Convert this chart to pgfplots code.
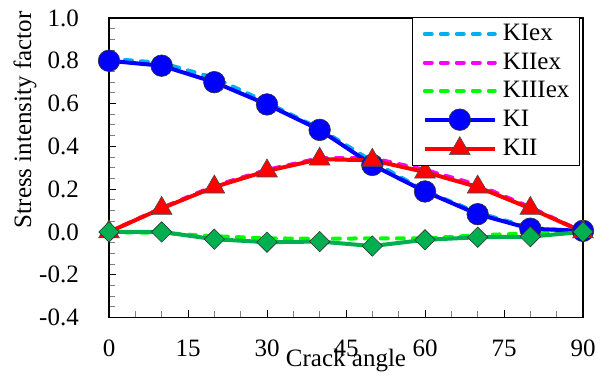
\documentclass[border=0pt]{standalone}
\usepackage{pgfplots}
\pgfplotsset{compat=1.18}
\usepackage{fontspec}
\setmainfont{Liberation Serif}
\definecolor{kiex}{HTML}{00B0F0}
\definecolor{kiiex}{HTML}{FF00FF}
\definecolor{kiiiex}{HTML}{00FF00}
\definecolor{kiii}{HTML}{00B050}
\definecolor{ki}{HTML}{0000FF}
\definecolor{kii}{HTML}{FF0000}
\begin{document}
\begin{tikzpicture}
\fontsize{25bp}{29bp}\selectfont
\path[use as bounding box] (0,0) rectangle (603bp,379bp);
\begin{axis}[
  at={(109bp,61.5bp)}, anchor=south west,
  width=474bp, height=299.5bp, scale only axis,
  xmin=0, xmax=90, ymin=-0.4, ymax=1.0,
  xtick={0,15,30,45,60,75,90}, minor x tick num=2,
  ytick={-0.4,-0.2,0,0.2,0.4,0.6,0.8,1.0},
  yticklabels={-0.4,-0.2,0.0,0.2,0.4,0.6,0.8,1.0},
  minor y tick num=3,
  xtick pos=left, ytick pos=left, tick align=inside,
  major tick length=7bp, minor tick length=6bp,
  major tick style={black, line width=1bp},
  minor tick style={gray, line width=1bp},
  axis line style={line width=1.3bp},
  /pgf/number format/assume math mode=true,
  ticklabel style={font=\fontsize{25bp}{29bp}\selectfont},
  xticklabel style={anchor=base, yshift=-38.5bp},
  yticklabel style={anchor=east, inner sep=0pt, xshift=-30bp},
  xlabel={Crack angle},
  ylabel={Stress intensity factor},
  label style={font=\fontsize{25bp}{29bp}\selectfont},
  xlabel style={at={(axis description cs:0.5,-0.165)}, anchor=base},
  ylabel style={at={(axis description cs:-0.177,0.66)}, anchor=center},
  legend cell align=left,
  legend image code/.code={\draw[line width=4bp, mark repeat=2,mark phase=2] plot coordinates {(0bp,0bp) (35bp,0bp) (70bp,0bp)};},
  legend style={at={(rel axis cs:0.9937,1.003)}, anchor=north east,
    draw=black, line width=1.2bp, font=\fontsize{25bp}{29bp}\selectfont,
    inner xsep=10bp, inner ysep=5bp,
    nodes={inner sep=0bp, text height=18bp, text depth=5bp},
    row sep=5.5bp, column sep=6bp},
]
\addplot[color=kiex, line width=4bp, dash pattern=on 7bp off 9bp, line cap=round] coordinates {
(0,0.81) (10,0.79) (20,0.72) (30,0.605) (40,0.482) (50,0.33) (60,0.192) (70,0.09) (80,0.02) (90,0.0)};
\addlegendentry{KIex}
\addplot[color=kiiex, line width=4bp, dash pattern=on 7bp off 9bp, line cap=round] coordinates {
(0,0.0) (10,0.112) (20,0.215) (30,0.29) (40,0.345) (50,0.345) (60,0.29) (70,0.22) (80,0.115) (90,0.0)};
\addlegendentry{KIIex}
\addplot[color=kiiiex, line width=4bp, dash pattern=on 7bp off 9bp, line cap=round] coordinates {
(0,0.0) (10,-0.005) (20,-0.02) (30,-0.03) (40,-0.032) (50,-0.03) (60,-0.03) (70,-0.016) (80,-0.006) (90,0.0)};
\addlegendentry{KIIIex}
\addplot[color=ki, line width=4bp, mark=*, mark size=10.8bp, mark options={fill=ki, draw=black!80, line width=0.6bp, solid}] coordinates {
(0,0.80) (10,0.777) (20,0.70) (30,0.596) (40,0.477) (50,0.313) (60,0.189) (70,0.083) (80,0.015) (90,0.005)};
\addlegendentry{KI}
\addplot[color=kii, line width=4bp, mark=triangle*, mark size=12bp, mark options={fill=kii, draw=black!70, line width=0.6bp, solid}] coordinates {
(0,0.0) (10,0.11) (20,0.21) (30,0.285) (40,0.34) (50,0.335) (60,0.28) (70,0.21) (80,0.11) (90,0.0)};
\addlegendentry{KII}
\addplot[color=kiii, line width=4bp, mark=square*, mark size=7.2bp, mark options={fill=kiii, draw=black!80, line width=0.6bp, rotate=45, solid}, forget plot] coordinates {
(0,0.0) (10,0.0) (20,-0.034) (30,-0.048) (40,-0.045) (50,-0.066) (60,-0.037) (70,-0.025) (80,-0.022) (90,0.0)};
\end{axis}
\end{tikzpicture}
\end{document}
